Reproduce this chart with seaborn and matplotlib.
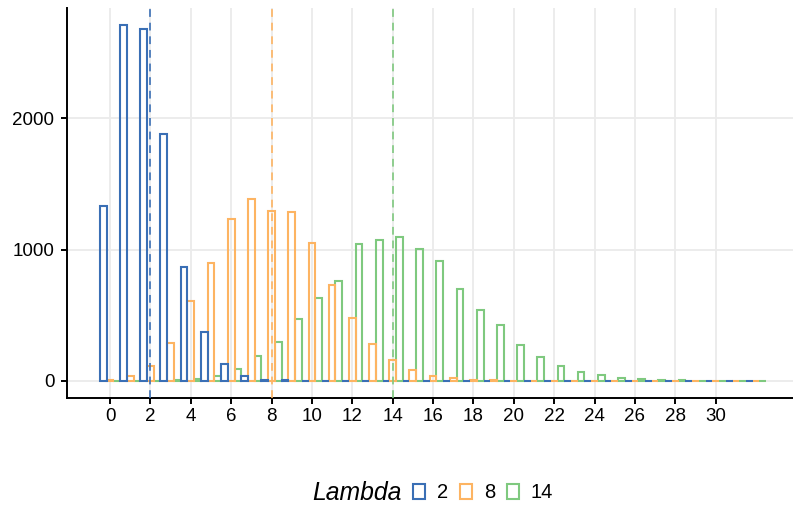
import numpy as np
import pandas as pd
import matplotlib
matplotlib.use("Agg")
import matplotlib.pyplot as plt
import seaborn as sns

# counts per outcome 0..32 for each lambda
values = list(range(33))
lambdas = ["2", "8", "14"]
lambda_means = [2, 8, 14]
counts_2 = [1330, 2712, 2684, 1878, 865, 369, 125, 35, 10, 3, 1] + [0] * 22
counts_8 = [3, 33, 112, 285, 605, 898, 1237, 1387, 1295, 1285, 1051, 728, 476,
            277, 158, 84, 36, 20, 8, 4, 2, 1] + [0] * 11
counts_14 = [0, 0, 0, 3, 15, 33, 89, 191, 295, 468, 628, 763, 1040, 1071, 1099,
             1005, 911, 697, 540, 422, 273, 182, 115, 69, 43, 23, 13, 6, 3, 2,
             1, 0, 1]
colors = ["#3a6fb5", "#fdb462", "#7fc97f"]
x_ticks = list(range(0, 31, 2))
y_ticks = [0, 1000, 2000]

df = pd.DataFrame({
    "value": values * 3,
    "Lambda": np.repeat(lambdas, len(values)),
    "count": counts_2 + counts_8 + counts_14,
})

sns.set_style("white")
plt.rcParams["font.family"] = ["Liberation Sans", "DejaVu Sans"]
plt.rcParams["text.color"] = "black"

fig = plt.figure(figsize=(7.93, 5.08), dpi=100)
ax = fig.add_axes([67 / 793, 1 - 398 / 508, 1 - 67 / 793, 390 / 508])

sns.histplot(data=df, x="value", weights="count", hue="Lambda",
             hue_order=lambdas, palette=colors, discrete=True,
             multiple="dodge", shrink=1, fill=False, linewidth=1.5, ax=ax)

for m, c in zip(lambda_means, colors):
    ax.axvline(m, color=c, linestyle=(0, (4, 3)), linewidth=1.4, alpha=0.85, zorder=3)

ax.set_xlim(-2.13, 33.83)
ax.set_ylim(-131, 2842)
ax.set_xticks(x_ticks)
ax.set_yticks(y_ticks)
ax.grid(True, color="#ebebeb", linewidth=1.3)
ax.set_axisbelow(True)
ax.set_xlabel("")
ax.set_ylabel("")
for side in ["top", "right"]:
    ax.spines[side].set_visible(False)
for side in ["left", "bottom"]:
    ax.spines[side].set_color("black")
    ax.spines[side].set_linewidth(1.4)
ax.tick_params(axis="both", which="major", direction="out", length=4.3, width=1.4,
               color="black", labelsize=13.5, labelcolor="black",
               bottom=True, left=True)
ax.tick_params(axis="x", pad=3)
ax.tick_params(axis="y", pad=4.8)

sns.move_legend(ax, "center left", bbox_to_anchor=(413 / 793, 1 - 493 / 508),
                bbox_transform=fig.transFigure, ncol=3, title=None, frameon=False,
                fontsize=14.5, handlelength=0.58, handleheight=0.75,
                handletextpad=0.6, columnspacing=0.6, borderpad=0, borderaxespad=0)
for t in ax.get_legend().get_texts():
    t.set_color("black")
fig.text(312 / 793, 1 - 493 / 508, "Lambda", fontsize=17.8, fontstyle="italic",
         ha="left", va="center", color="black")

fig.savefig("out.png", dpi=100)
